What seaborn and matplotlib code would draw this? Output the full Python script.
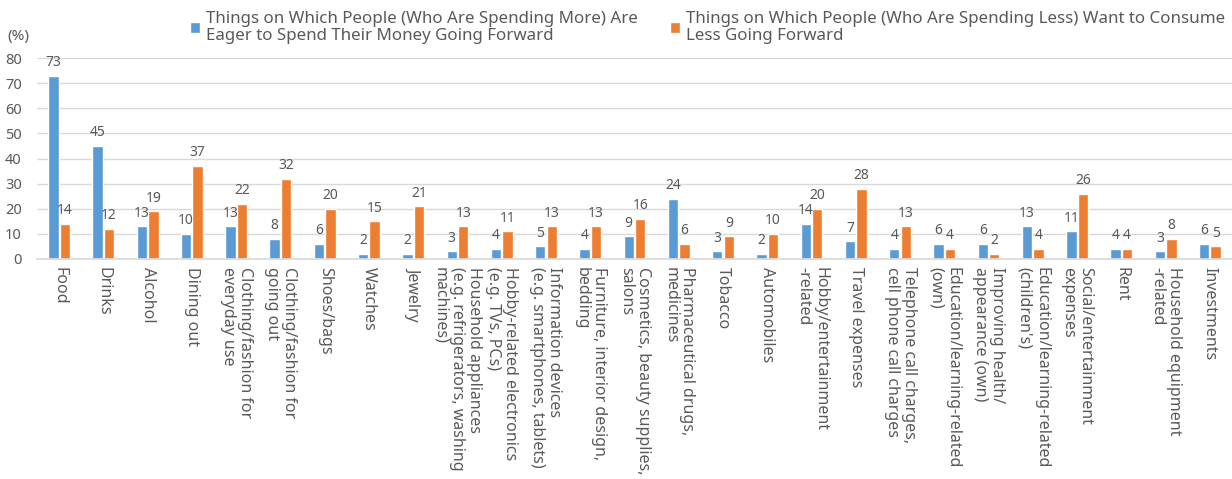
import matplotlib
matplotlib.use("Agg")
import matplotlib.pyplot as plt
import seaborn as sns
import pandas as pd

categories = [
    "Food", "Drinks", "Alcohol", "Dining out",
    "Clothing/fashion for\neveryday use", "Clothing/fashion for\ngoing out",
    "Shoes/bags", "Watches", "Jewelry",
    "Household appliances\n(e.g. refrigerators, washing\nmachines)",
    "Hobby-related electronics\n(e.g. TVs, PCs)",
    "Information devices\n(e.g. smartphones, tablets)",
    "Furniture, interior design,\nbedding",
    "Cosmetics, beauty supplies,\nsalons",
    "Pharmaceutical drugs,\nmedicines",
    "Tobacco", "Automobiles",
    "Hobby/entertainment\n-related",
    "Travel expenses",
    "Telephone call charges,\ncell phone call charges",
    "Education/learning-related\n(own)",
    "Improving health/\nappearance (own)",
    "Education/learning-related\n(children's)",
    "Social/entertainment\nexpenses",
    "Rent",
    "Household equipment\n-related",
    "Investments",
]
spending_more = [73, 45, 13, 10, 13, 8, 6, 2, 2, 3, 4, 5, 4, 9, 24, 3, 2, 14, 7, 4, 6, 6, 13, 11, 4, 3, 6]
spending_less = [14, 12, 19, 37, 22, 32, 20, 15, 21, 13, 11, 13, 13, 16, 6, 9, 10, 20, 28, 13, 4, 2, 4, 26, 4, 8, 5]
series_names = [
    "Things on Which People (Who Are Spending More) Are\nEager to Spend Their Money Going Forward",
    "Things on Which People (Who Are Spending Less) Want to Consume\nLess Going Forward",
]
yticks = [0, 10, 20, 30, 40, 50, 60, 70, 80]

df = pd.DataFrame({
    "category": categories * 2,
    "value": spending_more + spending_less,
    "series": [series_names[0]] * len(categories) + [series_names[1]] * len(categories),
})

sns.set_theme(style="white")
plt.rcParams["font.family"] = ["Noto Sans", "DejaVu Sans"]

text_color = "#595959"
fig = plt.figure(figsize=(12.32, 4.79), dpi=100)
ax = fig.add_axes([0.030, 0.4593, 0.970, 0.4196])

sns.barplot(data=df, x="category", y="value", hue="series", order=categories,
            hue_order=series_names, palette=["#5B9BD5", "#ED7D31"], saturation=1,
            width=0.52, gap=0.1, ax=ax, legend=True)

for cont in ax.containers:
    ax.bar_label(cont, fmt="%d", padding=4, fontsize=10, color=text_color)

ax.set_ylim(0, 80)
ax.set_yticks(yticks)
ax.set_xlim(-0.5, len(categories) - 0.5)
ax.yaxis.grid(True, color="#D9D9D9", linewidth=1)
ax.set_axisbelow(True)
for s in ["top", "right", "left"]:
    ax.spines[s].set_visible(False)
ax.spines["bottom"].set_color("#D9D9D9")
ax.tick_params(axis="y", labelsize=10.5, colors=text_color, length=0, pad=11)
ax.tick_params(axis="x", labelsize=11.5, colors=text_color, length=0, pad=6)
plt.setp(ax.get_xticklabels(), rotation=270, ha="center", va="top",
         rotation_mode="default", linespacing=1.08, multialignment="left")
ax.set_xlabel("")
ax.set_ylabel("")

fig.text(0.006, 0.923, "(%)", fontsize=11, color=text_color, ha="left", va="center")

handles, labels = ax.get_legend_handles_labels()
leg = ax.legend(handles, labels, loc="upper left", bbox_to_anchor=(0.154, 0.978),
                bbox_transform=fig.transFigure, ncol=2, borderpad=0, borderaxespad=0,
                frameon=False, fontsize=12.2, labelcolor=text_color, handlelength=0.6,
                handleheight=0.6, handletextpad=0.35, columnspacing=1.9)
for t in leg.get_texts():
    t.set_linespacing(1.12)

fig.savefig("out.png", dpi=100)
